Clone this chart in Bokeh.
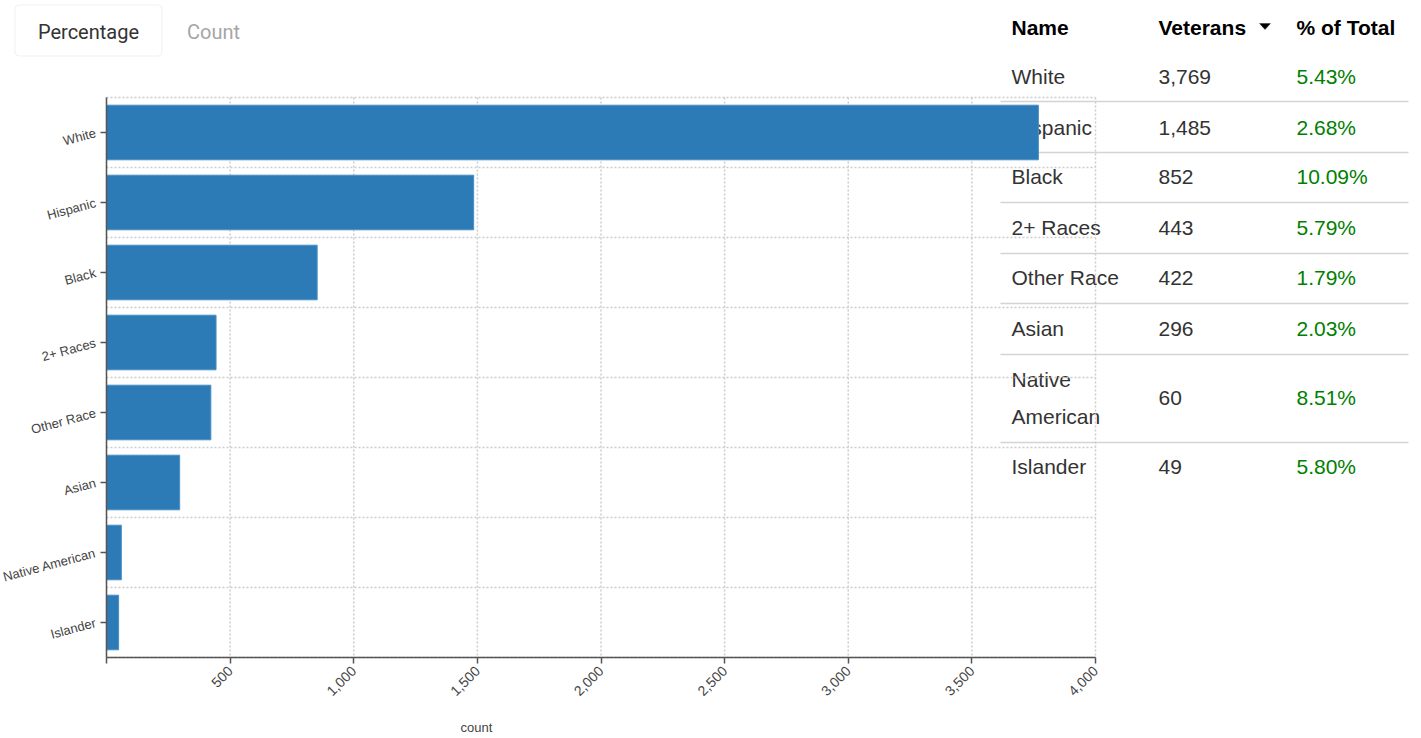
import math
from bokeh.plotting import figure
from bokeh.models import (Range1d, FixedTicker, CustomJSTickFormatter, Label,
                          BoxAnnotation, PolyAnnotation, ColumnDataSource)
from bokeh.embed import file_html
from bokeh.resources import INLINE

# ---------------- data ----------------
names = ["White", "Hispanic", "Black", "2+ Races", "Other Race", "Asian",
         "Native American", "Islander"]
veterans = [3769, 1485, 852, 443, 422, 296, 60, 49]
pct_of_total = [5.43, 2.68, 10.09, 5.79, 1.79, 2.03, 8.51, 5.80]
x_ticks = [0, 500, 1000, 1500, 2000, 2500, 3000, 3500, 4000]
x_title = "count"
buttons = ["Percentage", "Count"]
headers = ["Name", "Veterans", "% of Total"]

# ---------------- layout (page pixel geometry of the chart area) ----------------
W, H = 1416, 736
FL, FT, FR, FB = 106, 97, 1095, 657      # chart plot-area edges on the page
n = len(names)
XMAX = x_ticks[-1]
kx = XMAX / (FR - FL)                    # data units per pixel (x)
ky = n / (FB - FT)                       # band units per pixel (y)


def dx(px):
    return (px - FL) * kx


def dy(py):
    return (py - FT) * ky


p = figure(width=W, height=H, output_backend="svg", toolbar_location=None,
           x_range=Range1d(dx(0), dx(W)), y_range=Range1d(dy(H), dy(0)),
           min_border_left=0, min_border_right=0, min_border_top=0,
           min_border_bottom=0)
p.outline_line_color = None
p.background_fill_color = "white"
p.border_fill_color = "white"
p.xgrid.visible = False
p.ygrid.visible = False

# ---------------- table (drawn underneath the chart) ----------------
col_x = [1011, 1158, 1296]
header_y = 27
row_y = [76, 127, 176, 227, 277, 328, 397, 466]
sep_y = [101, 152, 202, 253, 303, 354, 442]
FONT = "Liberation Sans"

for yy in sep_y:
    p.add_layout(BoxAnnotation(left=dx(1000), right=dx(1408), top=dy(yy - 0.8),
                               bottom=dy(yy + 0.8), fill_color="#d4d4d4",
                               fill_alpha=1, line_color=None, level="image"))

for h, cx in zip(headers, col_x):
    p.add_layout(Label(x=dx(cx), y=dy(header_y), text=h, text_align="left",
                       text_baseline="middle", text_font=FONT,
                       text_font_size="21px", text_font_style="bold",
                       text_color="#000000", level="image"))
p.add_layout(PolyAnnotation(xs=[dx(1259), dx(1270), dx(1264.5)],
                            ys=[dy(23), dy(23), dy(29)],
                            fill_color="black", fill_alpha=1,
                            line_color="black", level="image"))

for nm, v, pc, ry in zip(names, veterans, pct_of_total, row_y):
    lines = nm.split(" ") if len(nm) > 12 else [nm]
    for k, ln in enumerate(lines):
        off = (k - (len(lines) - 1) / 2) * 37
        p.add_layout(Label(x=dx(col_x[0]), y=dy(ry + off), text=ln,
                           text_align="left", text_baseline="middle",
                           text_font=FONT, text_font_size="21px",
                           text_color="#333333", level="image"))
    p.add_layout(Label(x=dx(col_x[1]), y=dy(ry), text=f"{v:,}", text_align="left",
                       text_baseline="middle", text_font=FONT,
                       text_font_size="21px", text_color="#333333", level="image"))
    p.add_layout(Label(x=dx(col_x[2]), y=dy(ry), text=f"{pc:.2f}%",
                       text_align="left", text_baseline="middle", text_font=FONT,
                       text_font_size="21px", text_color="#008000", level="image"))

# ---------------- buttons ----------------
p.add_layout(BoxAnnotation(left=dx(14.5), right=dx(161.5), top=dy(4.5), bottom=dy(55.5),
                           fill_color="white", fill_alpha=1,
                           line_color="#cdcdcd", line_width=1,
                           border_radius=4, level="image"))
for txt, cx, col in ((buttons[0], 88, "#333333"), (buttons[1], 213, "#a6a6a6")):
    p.add_layout(Label(x=dx(cx), y=dy(31), text=txt, text_align="center",
                       text_baseline="middle", text_font="Roboto",
                       text_font_size="20px", text_color=col, level="image"))

# ---------------- chart ----------------
grid_kw = dict(line_color="#cccccc", line_dash="2 2", line_width=1.5)
p.segment(x0=x_ticks, y0=[0] * len(x_ticks), x1=x_ticks, y1=[n] * len(x_ticks),
          **grid_kw)
bands = list(range(n + 1))
p.segment(x0=[0] * len(bands), y0=bands, x1=[XMAX] * len(bands), y1=bands, **grid_kw)

src = ColumnDataSource(dict(y=[i + 0.5 for i in range(n)], right=veterans,
                            name=names))
p.hbar(y="y", left=0, right="right", height=0.78, source=src,
       fill_color="#2c7bb6", line_color="#4a8fc4", line_width=1)

ax = p.xaxis[0]
ax.fixed_location = n
ax.bounds = (0, XMAX)
ax.ticker = FixedTicker(ticks=x_ticks)
ax.formatter = CustomJSTickFormatter(
    code="return tick == 0 ? '' : Number(tick).toLocaleString('en-US');")
ax.major_label_orientation = math.pi / 4
ay = p.yaxis[0]
ay.fixed_location = 0
ay.bounds = (0, n)
ay.ticker = FixedTicker(ticks=[i + 0.5 for i in range(n)])
ay.formatter = CustomJSTickFormatter(args=dict(names=names),
                                     code="return names[Math.floor(tick)];")
ay.major_label_orientation = math.radians(15)
for a, fs in ((ax, "14px"), (ay, "13px")):
    a.axis_line_color = "#555555"
    a.axis_line_width = 1.5
    a.major_tick_line_color = "#555555"
    a.major_tick_line_width = 1.5
    a.major_tick_out = 6
    a.major_tick_in = 0
    a.minor_tick_line_color = None
    a.major_label_text_font = FONT
    a.major_label_text_font_size = fs
    a.major_label_text_color = "#444444"

p.add_layout(Label(x=dx(476), y=dy(727), text=x_title, text_align="center",
                   text_baseline="middle", text_font=FONT, text_font_size="13px",
                   text_color="#444444"))

open("out.html", "w").write(file_html(p, INLINE))
